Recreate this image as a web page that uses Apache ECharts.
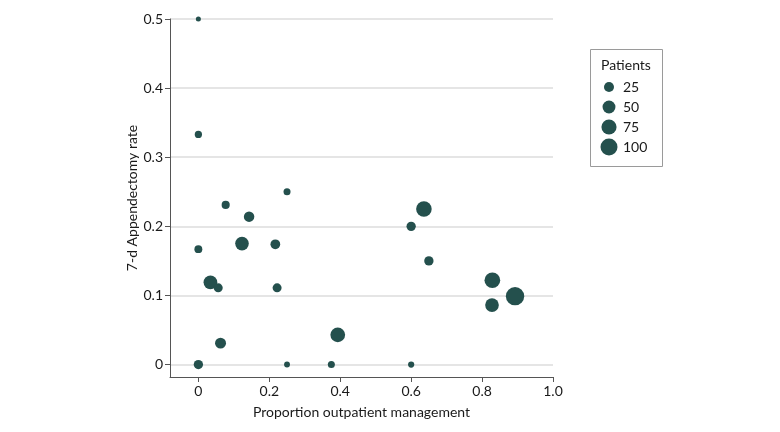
<!DOCTYPE html>
<html>
<head>
<meta charset="utf-8">
<script src="https://cdn.jsdelivr.net/npm/echarts@6/dist/echarts.min.js"></script>
<style>html,body{margin:0;padding:0;background:#fff;}#c{width:780px;height:432px;}</style>
</head>
<body>
<div id="c"></div>
<script>
// Data
var outpatient = [0, 0, 0.25, 0.077, 0.143, 0.123, 0.217, 0, 0.034, 0.056, 0.222, 0.0625, 0, 0.25, 0.375, 0.393, 0.6, 0.6, 0.636, 0.65, 0.829, 0.828, 0.893];
var rate       = [0.5, 0.333, 0.25, 0.231, 0.214, 0.175, 0.174, 0.167, 0.119, 0.111, 0.111, 0.031, 0, 0, 0, 0.043, 0, 0.2, 0.225, 0.15, 0.122, 0.086, 0.099];
var patients   = [2, 9, 8, 13, 28, 57, 23, 12, 59, 18, 18, 32, 20, 4, 8, 70, 5, 20, 80, 20, 82, 58, 121];
var xTicks = [0, 0.2, 0.4, 0.6, 0.8, 1.0];
var yTicks = [0, 0.1, 0.2, 0.3, 0.4, 0.5];
var legendValues = [25, 50, 75, 100];

var COLOR = '#24504d';
var FONT = 'Lato';
function sizeOf(n) { return 3.1 + 1.39 * Math.sqrt(n); }

var points = outpatient.map(function (x, i) { return [x, rate[i], patients[i]]; });
var legendPts = legendValues.map(function (v) { return [0, String(v), v]; });

var chart = echarts.init(document.getElementById('c'), null, {renderer: 'canvas'});
chart.setOption({
  animation: false,
  backgroundColor: '#fff',
  textStyle: {fontFamily: FONT},
  grid: [
    {left: 170, right: 227, top: 19, bottom: 55},
    {left: 599, width: 20, top: 77, height: 80}
  ],
  xAxis: [
    {
      type: 'value', gridIndex: 0, min: -0.08, max: 1.0,
      name: 'Proportion outpatient management', nameLocation: 'middle', nameGap: 28,
      nameTextStyle: {fontSize: 14, color: '#1a1a1a', fontFamily: FONT},
      axisLine: {show: true, onZero: false, lineStyle: {color: '#555', width: 1}},
      axisTick: {show: true, length: 5, customValues: xTicks, lineStyle: {color: '#555'}},
      axisLabel: {customValues: xTicks, fontSize: 14, color: '#1a1a1a', margin: 7, fontFamily: FONT,
        formatter: function (v) { return v === 0 ? '0' : v.toFixed(1); }},
      splitLine: {show: false}
    },
    {type: 'value', gridIndex: 1, min: -1, max: 1, show: false}
  ],
  yAxis: [
    {
      type: 'value', gridIndex: 0, min: -0.018, max: 0.5,
      name: '7-d Appendectomy rate', nameLocation: 'middle', nameGap: 30,
      nameTextStyle: {fontSize: 14, color: '#1a1a1a', fontFamily: FONT},
      axisLine: {show: true, onZero: false, lineStyle: {color: '#555', width: 1}},
      axisTick: {show: true, length: 5, customValues: yTicks, lineStyle: {color: '#555'}},
      axisLabel: {customValues: yTicks, fontSize: 14, color: '#1a1a1a', margin: 7, fontFamily: FONT,
        formatter: function (v) { return v === 0 ? '0' : v.toFixed(1); }},
      splitLine: {show: true, lineStyle: {color: '#dcdcdc', width: 1.5}}
    },
    {
      type: 'category', gridIndex: 1, data: legendValues.map(String), inverse: true, position: 'right',
      axisLine: {show: false}, axisTick: {show: false}, splitLine: {show: false},
      axisLabel: {show: true, margin: 4, fontSize: 14, color: '#1a1a1a', fontFamily: FONT, align: 'left'}
    }
  ],
  graphic: [
    {type: 'rect', left: 590, top: 49, shape: {width: 72, height: 117},
     style: {fill: '#fff', stroke: '#9a9a9a', lineWidth: 1}, z: -1},
    {type: 'text', style: {text: 'Patients', fill: '#1a1a1a', font: '14px ' + FONT,
      x: 626, y: 65, align: 'center', verticalAlign: 'middle'}}
  ],
  series: [
    {
      type: 'scatter', xAxisIndex: 0, yAxisIndex: 0, data: points,
      symbolSize: function (d) { return sizeOf(d[2]); },
      itemStyle: {color: COLOR, opacity: 1}
    },
    {
      type: 'scatter', xAxisIndex: 1, yAxisIndex: 1, data: legendPts,
      symbolSize: function (d) { return sizeOf(d[2]); },
      itemStyle: {color: COLOR, opacity: 1}
    }
  ]
});
</script>
</body>
</html>
